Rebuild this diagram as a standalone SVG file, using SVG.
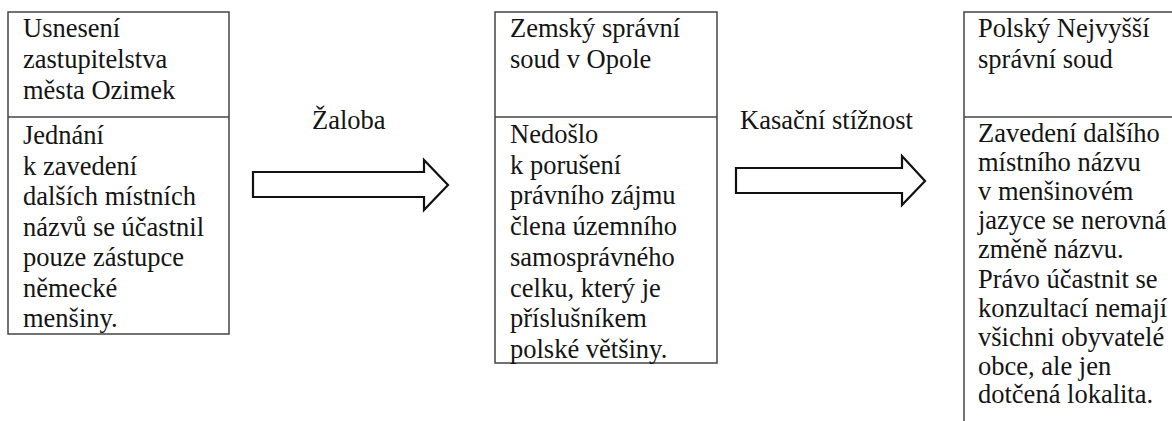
<svg xmlns="http://www.w3.org/2000/svg" width="1172" height="421" viewBox="0 0 1172 421">
<style>
.box{fill:#fff;stroke:#444;stroke-width:1.5}
.div{stroke:#444;stroke-width:1.5}
.t{font-family:'Liberation Serif',serif;font-size:26.5px;fill:#141414}
.arr{fill:#fff;stroke:#111;stroke-width:2.2;stroke-linejoin:miter}
</style>
<rect width="1172" height="421" fill="#fff"/>
<g id="node-ozimek">
<rect class="box" x="8" y="12" width="221" height="322"/>
<line class="div" x1="8" y1="117" x2="229" y2="117"/>
<text class="t" font-family="Liberation Serif"><tspan x="23" y="37">Usnesení</tspan><tspan x="23" y="68">zastupitelstva</tspan><tspan x="23" y="99">města Ozimek</tspan></text>
<text class="t" font-family="Liberation Serif"><tspan x="23" y="144">Jednání</tspan><tspan x="23" y="174.5">k zavedení</tspan><tspan x="23" y="205">dalších místních</tspan><tspan x="23" y="235.5">názvů se účastnil</tspan><tspan x="23" y="266">pouze zástupce</tspan><tspan x="23" y="296.5">německé</tspan><tspan x="23" y="327">menšiny.</tspan></text>
</g>
<g id="node-opole">
<rect class="box" x="495" y="12" width="222" height="351"/>
<line class="div" x1="495" y1="117" x2="717" y2="117"/>
<text class="t" font-family="Liberation Serif"><tspan x="510" y="37">Zemský správní</tspan><tspan x="510" y="68">soud v Opole</tspan></text>
<text class="t" font-family="Liberation Serif"><tspan x="510" y="143">Nedošlo</tspan><tspan x="510" y="173.7">k porušení</tspan><tspan x="510" y="204.4">právního zájmu</tspan><tspan x="510" y="235">člena územního</tspan><tspan x="510" y="265.8">samosprávného</tspan><tspan x="510" y="296.5">celku, který je</tspan><tspan x="510" y="327">příslušníkem</tspan><tspan x="510" y="358">polské většiny.</tspan></text>
</g>
<g id="node-nsa">
<rect class="box" x="964" y="12" width="230" height="430"/>
<line class="div" x1="964" y1="117" x2="1180" y2="117"/>
<text class="t" font-family="Liberation Serif"><tspan x="978" y="37">Polský Nejvyšší</tspan><tspan x="978" y="68">správní soud</tspan></text>
<text class="t" font-family="Liberation Serif"><tspan x="978" y="142">Zavedení dalšího</tspan><tspan x="978" y="171">místního názvu</tspan><tspan x="978" y="200">v menšinovém</tspan><tspan x="978" y="229">jazyce se nerovná</tspan><tspan x="978" y="258">změně názvu.</tspan><tspan x="978" y="288">Právo účastnit se</tspan><tspan x="978" y="317">konzultací nemají</tspan><tspan x="978" y="346">všichni obyvatelé</tspan><tspan x="978" y="375">obce, ale jen</tspan><tspan x="978" y="403">dotčená lokalita.</tspan></text>
</g>
<g id="connectors">
<g id="edge-zaloba">
<polygon class="arr" points="253,172 424,172 424,160 448,185 424,210 424,197 253,197"/>
<text class="t" font-family="Liberation Serif" x="312" y="129">Žaloba</text>
</g>
<g id="edge-kasacni">
<polygon class="arr" points="736,168 902,168 902,156 925,181 902,205 902,193 736,193"/>
<text class="t" font-family="Liberation Serif" x="740" y="129">Kasační stížnost</text>
</g>
</g>
</svg>
